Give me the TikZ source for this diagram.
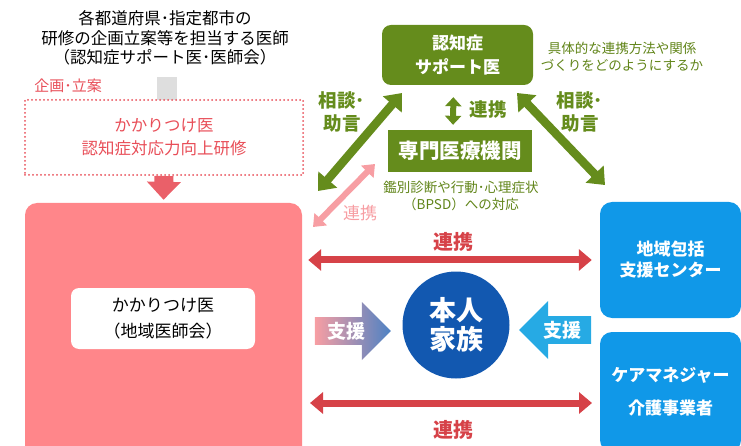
\documentclass[tikz,border=0pt]{standalone}
\usepackage{fontspec}
\setmainfont{Noto Sans CJK JP}
\usepackage{tikz}
\usetikzlibrary{arrows.meta,positioning,shapes.arrows}
\definecolor{boxpink}{RGB}{255,134,138}
\definecolor{linkred}{RGB}{214,66,72}
\definecolor{textred}{RGB}{232,78,88}
\definecolor{sapogreen}{RGB}{101,140,28}
\definecolor{notegreen}{RGB}{96,132,24}
\definecolor{areablue}{RGB}{16,152,232}
\definecolor{selfblue}{RGB}{18,88,176}
\definecolor{shienblue}{RGB}{38,170,228}
\definecolor{linkpink}{RGB}{247,158,163}
\definecolor{stubgrey}{RGB}{222,222,222}

\begin{document}
\begin{tikzpicture}
		[x=1pt, y=-1pt, inner sep=0pt,
		hdr/.style		= {align=center, font=\fontsize{16.5}{19.5}\selectfont},
		planlbl/.style	= {text=textred, font=\fontsize{15}{18}\selectfont},
		dotbox/.style	= {rectangle, draw=textred, line width=2pt, line cap=round, dash pattern=on 0pt off 4pt, minimum width=278pt, minimum height=75pt, align=center, text=textred, font=\fontsize{16.5}{23}\selectfont},
		doctor/.style	= {rectangle, rounded corners=12pt, fill=boxpink, minimum width=277pt, minimum height=256pt},
		docinner/.style	= {rectangle, rounded corners=8pt, fill=white, minimum width=184pt, minimum height=61pt, align=center, font=\fontsize{17}{26}\selectfont},
		sapo/.style		= {rectangle, rounded corners=9pt, fill=sapogreen, text=white, minimum width=151pt, minimum height=60pt, align=center, font=\bfseries\fontsize{17}{24}\selectfont},
		senmon/.style	= {rectangle, fill=sapogreen, text=white, minimum width=144pt, minimum height=42pt, font=\bfseries\fontsize{20.5}{24}\selectfont},
		note/.style		= {align=center, text=notegreen, font=\fontsize{13.5}{17}\selectfont},
		advice/.style	= {align=center, text=sapogreen, font=\bfseries\fontsize{18.5}{23}\selectfont},
		region/.style	= {rectangle, rounded corners=12pt, fill=areablue, text=white, minimum width=141pt, align=center, font=\bfseries\fontsize{17}{21}\selectfont},
		person/.style	= {circle, fill=selfblue, text=white, minimum size=107pt, align=center, font=\bfseries\fontsize{27}{29}\selectfont},
		shien/.style	= {single arrow, single arrow head extend=10pt, minimum width=58pt, text=white, font=\bfseries\fontsize{19}{19}\selectfont},
		glink/.style	= {{Triangle[width=24pt,length=15pt]}-{Triangle[width=24pt,length=15pt]}, line width=8.5pt, draw=sapogreen},
		gshort/.style	= {{Triangle[width=16pt,length=9pt]}-{Triangle[width=16pt,length=9pt]}, line width=6pt, draw=sapogreen},
		plink/.style	= {{Triangle[width=17pt,length=11pt]}-{Triangle[width=17pt,length=11pt]}, line width=6pt, draw=linkpink},
		rlink/.style	= {{Triangle[width=21pt,length=13pt]}-{Triangle[width=21pt,length=13pt]}, line width=7pt, draw=linkred}]
		
		\useasboundingbox (0,0) rectangle (741,446);
		
		% left side
		\node at (165,38)		[hdr]		(head)		{各都道府県･指定都市の\\研修の企画立案等を担当する医師\\（認知症サポート医･医師会）};
		\node at (68,86)		[planlbl]	(plan)		{企画･立案};
		\node at (167,88.5)		[fill=stubgrey, minimum width=20pt, minimum height=23pt] (stub) {};
		\node at (164,137.5)	[dotbox]	(kenshu)	{かかりつけ医\\認知症対応力向上研修};
		\node at (163.5,331)	[doctor]	(kakari)	{};
		\node at (163,318.5)	[docinner]	(chiiki)	{かかりつけ医\\（地域医師会）};
		
		% green part
		\node at (457.5,55)		[sapo]		(support)	{認知症\\サポート医};
		\node at (622,57)		[note]		(gutai)		{具体的な連携方法や関係\\づくりをどのようにするか};
		\node at (460,151)		[senmon]	(kikan)		{専門医療機関};
		\node at (461,195.5)	[note]		(kanbetsu)	{鑑別診断や行動･心理症状\\（BPSD）への対応};
		\node at (342,112)		[advice]	(soudan1)	{相談･\\助言};
		\node at (580,112)		[advice]	(soudan2)	{相談･\\助言};
		\node at (488,109)		[advice]	(renkei1)	{連携};
		
		% right side
		\node at (670.5,260)	[region, minimum height=116pt]	(houkatsu)	{地域包括\\支援センター};
		\node at (670.5,392)	[region, minimum height=120pt]	(care)		{ケアマネジャー\\[12pt]介護事業者};
		\node at (456,325)		[person]	(honnin)	{本人\\家族};
		\node at (346,331)		[shien, minimum height=76pt, left color=linkpink, right color=selfblue!75!white] (shien1) {支援};
		\node at (562,330)		[shien, minimum height=72pt, shape border rotate=180, fill=shienblue] (shien2) {支援};
		
		\node at (360,213)		[text=linkpink, font=\fontsize{17}{17}\selectfont]	(renkei2) {連携};
		\node at (453,242)		[text=linkred, font=\bfseries\fontsize{20}{20}\selectfont] (renkei3) {連携};
		\node at (453,430)		[text=linkred, font=\bfseries\fontsize{20}{20}\selectfont] (renkei4) {連携};
		
		\coordinate (gl1) at (402,93);
		\coordinate (gl2) at (318,191);
		\coordinate (gr1) at (517,93);
		\coordinate (gr2) at (605,185);
		\coordinate (pk1) at (375,164);
		\coordinate (pk2) at (313,227);
		\coordinate (rb1) at (310,403);
		\coordinate (rb2) at (592,403);
		
		\draw [line width=19pt, draw=textred!90!white, -{Triangle[width=33pt,length=18pt]}, shorten >=3pt] (kenshu.south) -- (kakari.north);
		
		\draw [glink] (gl1) -- (gl2);
		\draw [glink] (gr1) -- (gr2);
		\draw [gshort, shorten <=12pt, shorten >=5pt] ([xshift=-4pt]support.south) -- ([xshift=-7pt]kikan.north);
		\draw [plink] (pk1) -- (pk2);
		
		\draw [rlink, shorten <=6pt, shorten >=8pt] (kakari.east |- houkatsu.west) -- (houkatsu.west);
		\draw [rlink] (rb1) -- (rb2);
		
		\end{tikzpicture}
\end{document}
